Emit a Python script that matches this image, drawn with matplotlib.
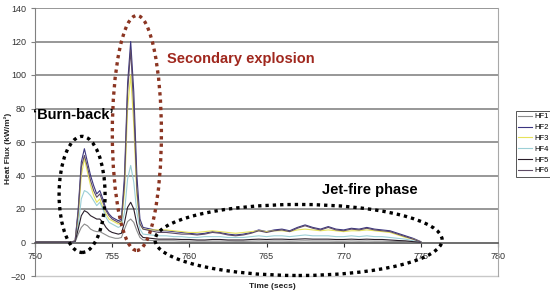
import matplotlib
matplotlib.use("Agg")
import matplotlib.pyplot as plt
from matplotlib.patches import Ellipse

plt.rcParams['font.family'] = ['Liberation Sans', 'DejaVu Sans']

# time (s)
time = [750.0, 752.4, 752.6, 752.8, 753.0, 753.2, 753.4, 753.6, 753.8, 754.0,
        754.2, 754.4, 754.6, 754.8, 755.0, 755.2, 755.4, 755.6, 755.8, 756.0,
        756.2, 756.4, 756.6, 756.8, 757.0, 757.5,
        758.0, 758.5, 759.0, 759.5, 760.0, 760.5, 761.0, 761.5, 762.0, 762.5,
        763.0, 763.5, 764.0, 764.5, 765.0, 765.5, 766.0, 766.5, 767.0, 767.5,
        768.0, 768.5, 769.0, 769.5, 770.0, 770.5, 771.0, 771.5, 772.0, 772.5,
        773.0, 773.5, 774.0, 774.5, 775.0]

hf1 = [0.1, 0.1, 0.3, 5, 9, 11, 10, 8, 7, 6.5, 6.5, 5.5, 4.5, 3.5, 3, 2.5, 2.5, 3, 8, 12.5,
       14, 12, 7, 3, 1.5, 1.2,
       1, 1, 1, 0.8, 0.8, 0.8, 0.8, 0.8, 0.8, 0.8, 0.7, 0.7, 0.8, 0.9, 0.8, 0.9, 0.9, 0.8,
       0.9, 1, 0.9, 0.9, 0.9, 0.8, 0.8, 0.9, 0.8, 0.9, 0.8, 0.8, 0.7, 0.6, 0.5, 0.3, 0.1]
hf2 = [0.5, 0.5, 1, 20, 48, 56, 48, 40, 34, 29, 31, 26, 20, 17, 15, 14, 13, 14, 40, 95,
       120, 90, 40, 14, 9, 8,
       7, 7, 6.5, 6, 5.5, 5, 5.5, 6.5, 6, 5, 4.5, 5, 6, 7.5, 6.5, 7.5, 8, 7, 9, 10.5,
       9, 8, 9.5, 8, 7.5, 8.5, 8, 9, 8, 7.5, 7, 5.5, 4, 2.5, 0.5]
hf3 = [0.3, 0.3, 1, 15, 40, 50, 42, 34, 28, 24, 26, 21, 17, 14, 13, 12, 11, 12, 30, 80,
       100, 70, 28, 11, 8, 7.5,
       7.5, 7.5, 7, 6.5, 6, 6, 6.5, 7, 6.5, 6, 5.5, 6, 6.5, 7, 6.5, 7, 7, 6.5, 7.5, 8,
       7.5, 7, 7.5, 7, 6.5, 7, 7, 7.5, 7, 6.5, 6, 4.5, 3, 2, 0.3]
hf4 = [0.2, 0.2, 0.5, 10, 26, 31, 30, 28, 25, 22, 24, 20, 15, 12, 11, 10, 9, 10, 18, 38,
       46, 36, 18, 8, 5, 4.5,
       4, 4, 3.5, 3.5, 3, 3, 3.5, 3.5, 3.5, 3, 3, 3, 3.5, 4, 3.5, 4, 4, 3.5, 4, 4.5,
       4, 4, 4, 3.5, 3.5, 4, 3.5, 4, 3.5, 3.5, 3, 2.5, 2, 1, 0.2]
hf5 = [0.2, 0.2, 0.5, 8, 16, 19, 18, 16, 15, 14, 14, 12, 9, 7, 6, 5.5, 5, 5.5, 12, 21,
       24, 20, 11, 5, 3, 2.5,
       2, 2, 2, 1.8, 1.8, 1.5, 1.5, 1.8, 1.8, 1.5, 1.5, 1.5, 1.8, 2, 1.8, 2, 2, 1.8, 2, 2.2,
       2, 2, 2, 1.8, 1.8, 2, 1.8, 2, 1.8, 1.8, 1.5, 1.2, 1, 0.5, 0.1]
hf6 = [0.3, 0.3, 1, 18, 45, 52, 45, 37, 31, 27, 29, 24, 19, 16, 14, 13, 12, 13, 35, 90,
       115, 80, 32, 11, 8, 7,
       6, 6, 5.5, 5, 5, 4.5, 5, 6, 5.5, 4.5, 4, 4.5, 5.5, 7, 6, 7, 7.5, 6.5, 8.5, 10,
       8.5, 7.5, 9, 7.5, 7, 8, 7.5, 8.5, 7.5, 7, 6.5, 5, 3.5, 2, 0.3]

labels = ['HF1', 'HF2', 'HF3', 'HF4', 'HF5', 'HF6']
colors = ['#8c8c8c', '#3a3580', '#e6e25a', '#9ccfd6', '#2a1e2a', '#5e4c66']
yticks = [-20, 0, 20, 40, 60, 80, 100, 120, 140]
xticks = [750, 755, 760, 765, 770, 775, 780]

fig = plt.figure(figsize=(5.5, 2.97), dpi=100)
ax = fig.add_axes([35 / 550, 21 / 297, 463 / 550, 268 / 297])

for y in yticks[2:]:
    ax.axhline(y, color='#7a7a7a', lw=1.1, zorder=1)
ax.axhline(-20, color='#c8c8c8', lw=1, zorder=1, clip_on=False)

series = [hf1, hf2, hf3, hf4, hf5, hf6]
for s, lab, c in zip(series, labels, colors):
    ax.plot(time, s, color=c, lw=0.8, label=lab, zorder=3)

ax.set_xlim(750, 780)
ax.set_ylim(-20, 140)
ax.set_xticks(xticks)
ax.set_yticks(yticks)

ax.spines['top'].set_visible(False)
ax.spines['right'].set_color('#a8a8a8')
ax.spines['left'].set_color('#808080')
ax.spines['bottom'].set_position(('data', 0))
ax.spines['bottom'].set_color('#555555')
ax.spines['bottom'].set_linewidth(1.2)
ax.tick_params(axis='both', labelsize=6.5, colors='#333333', length=3, width=0.8)
ax.tick_params(axis='y', color='#808080')

# annotation ellipses
dots = dict(fill=False, lw=2.4, linestyle=(0, (1, 1.2)), clip_on=False, zorder=5)
ax.add_patch(Ellipse((753.05, 28.7), 2.98, 69.3, edgecolor='black', **dots))
ax.add_patch(Ellipse((756.6, 65.4), 3.18, 140.3, edgecolor='#8b3522', **dots))
ax.add_patch(Ellipse((767.08, 1.5), 18.6, 42.4, edgecolor='black', **dots))

ax.text(749.87, 76.4, '\u2018Burn-back\u2019', fontsize=10.5, fontweight='bold',
        ha='left', va='center', zorder=6)
ax.text(758.55, 109.3, 'Secondary explosion', fontsize=10.5, fontweight='bold',
        color='#a0281e', ha='left', va='center', zorder=6)
ax.text(768.6, 31.6, 'Jet-fire phase', fontsize=10.5, fontweight='bold',
        ha='left', va='center', zorder=6)

fig.text(8 / 550, 1 - 148 / 297, 'Heat Flux (kW/m\u00b2)', rotation=90,
         fontsize=6, fontweight='bold', ha='center', va='center', color='#222222')
fig.text(272 / 550, 1 - 287 / 297, 'Time (secs)', fontsize=6,
         fontweight='bold', ha='center', va='center', color='#222222')

leg = fig.legend(loc='upper left', bbox_to_anchor=(512 / 550, 1 - 107 / 297),
                 fontsize=5.5, handlelength=1.8, handletextpad=0.3,
                 borderpad=0.3, labelspacing=0.45, fancybox=False,
                 framealpha=1, edgecolor='#555555')
leg.get_frame().set_linewidth(0.7)

fig.savefig('out.png', dpi=100)
